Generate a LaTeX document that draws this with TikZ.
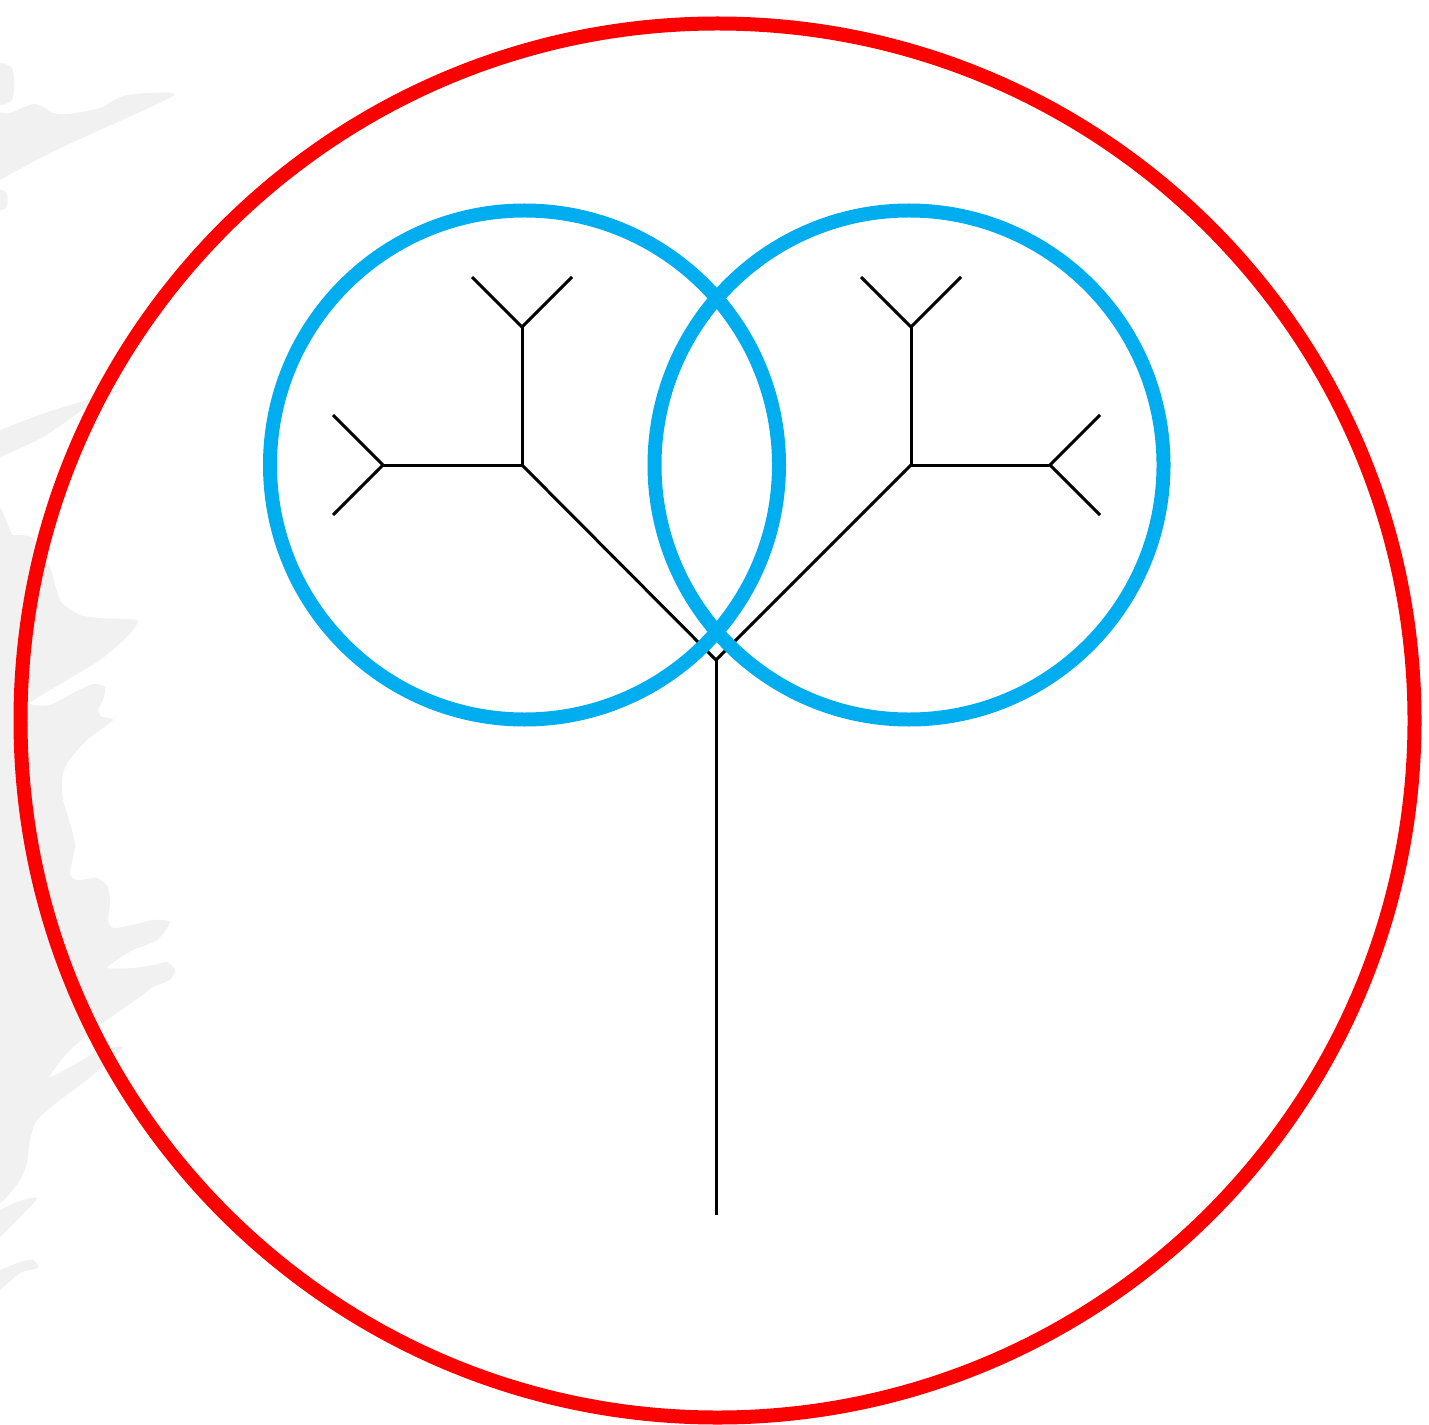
\documentclass[tikz,border=0pt]{standalone}
\definecolor{ringred}{HTML}{FF0000}
\definecolor{ringblue}{HTML}{00AEEF}
\definecolor{shade}{HTML}{F1F1F1}
\tikzset{
  ring/.style={line width=0.28cm},
  branch/.style={line width=0.06cm, black},
  ghost/.style={fill=shade}
}
\begin{document}
\begin{tikzpicture}[x=0.02cm,y=-0.02cm]
\useasboundingbox (0,0) rectangle (1429,1425);
\clip (0,0) rectangle (1429,1425);
% background grey silhouette
\fill[ghost] plot[smooth cycle, tension=0.5] coordinates {(-10,65) (12,68) (12,100) (-10,103)};
\fill[ghost] plot[smooth cycle, tension=0.5] coordinates {(-10,190) (6,192) (6,208) (-10,210)};
\fill[ghost] plot[smooth cycle, tension=0.5] coordinates {(-10,118) (10,113) (33,104) (43,107) (53,113) (67,114) (87,111) (103,107) (112,101) (127,95) (153,93) (173,96) (100,130) (50,153) (0,180) (-10,185)};
\fill[ghost] plot[smooth cycle, tension=0.5] coordinates {(-10,433) (0,430) (45,413) (87,400) (120,390) (90,405) (43,437) (0,457) (-10,460)};
\fill[ghost] plot[smooth cycle, tension=0.4] coordinates {(-10,537) (13,535) (33,538) (50,567) (55,585) (62,603) (80,615) (100,618) (123,619) (138,621) (127,637) (100,660) (67,680) (30,703) (50,705) (73,693) (93,684) (105,687) (103,700) (98,710) (102,717) (113,720) (87,740) (67,763) (62,780) (63,800) (72,830) (75,847) (70,873) (77,880) (97,878) (108,887) (110,903) (108,920) (113,928) (133,925) (153,920) (170,922) (157,940) (133,950) (117,960) (107,968) (133,968) (153,965) (167,962) (175,970) (170,980) (153,987) (140,997) (117,1013) (90,1033) (67,1053) (50,1077) (77,1063) (100,1050) (123,1047) (107,1063) (83,1083) (60,1100) (37,1120) (30,1140) (27,1163) (20,1180) (7,1197) (0,1203) (-10,1205)};
\fill[ghost] plot[smooth cycle, tension=0.5] coordinates {(-10,1213) (0,1210) (17,1202) (37,1198) (20,1217) (0,1237) (-10,1240)};
\fill[ghost] plot[smooth cycle, tension=0.5] coordinates {(-10,1273) (0,1270) (20,1262) (33,1260) (38,1268) (20,1273) (0,1290) (-10,1293)};
% tree
\coordinate (root) at (716,1215);
\coordinate (fork) at (716,660);
\coordinate (L) at (522,465);
\coordinate (R) at (911,465);
\coordinate (LU) at (522,327);
\coordinate (LL) at (383,465);
\coordinate (RU) at (911,327);
\coordinate (RR) at (1050,465);
\draw[branch] (root) -- (fork);
\draw[branch] (fork) -- (L);
\draw[branch] (fork) -- (R);
\draw[branch] (L) -- (LU);
\draw[branch] (L) -- (LL);
\draw[branch] (R) -- (RU);
\draw[branch] (R) -- (RR);
\draw[branch] (LU) -- ++(-50,-50);
\draw[branch] (LU) -- ++(50,-50);
\draw[branch] (LL) -- ++(-50,-50);
\draw[branch] (LL) -- ++(-50,50);
\draw[branch] (RU) -- ++(-50,-50);
\draw[branch] (RU) -- ++(50,-50);
\draw[branch] (RR) -- ++(50,-50);
\draw[branch] (RR) -- ++(50,50);
% circles
\draw[ring, ringblue] (524.5,465) circle (254.5);
\draw[ring, ringblue] (909,465) circle (254.5);
\draw[ring, ringred] (717.5,720.5) circle (697);
\end{tikzpicture}
\end{document}
